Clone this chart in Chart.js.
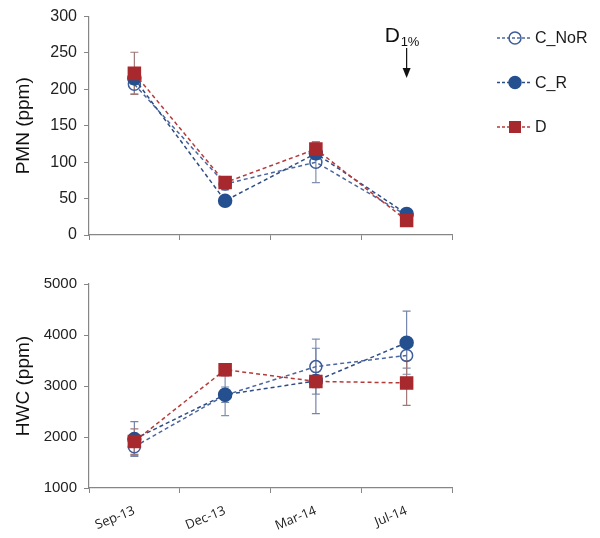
<!DOCTYPE html>
<html>
<head>
<meta charset="utf-8">
<script src="https://cdn.jsdelivr.net/npm/chart.js@4.4.1/dist/chart.umd.min.js"></script>
<style>
  body { margin: 0; background: #fff; }
  #wrap { position: relative; width: 600px; height: 538px; }
  canvas { position: absolute; left: 0; }
</style>
</head>
<body>
<div id="wrap">
  <canvas id="pmn" width="600" height="260" style="top:0"></canvas>
  <canvas id="hwc" width="600" height="278" style="top:260px"></canvas>
</div>
<script>
// sampling dates
const labels = ['Sep-13', 'Dec-13', 'Mar-14', 'Jul-14'];

// PMN (ppm)
const pmnNoR = [207, 70, 100, 27];
const pmnR = [215, 47, 112, 29];
const pmnD = [222, 72, 118, 20];
const pmnNoRErr = [13, 8, 28, 3];
const pmnRErr = [8, 3, 8, 3];
const pmnDErr = [29, 8, 10, 3];

// HWC (ppm)
const hwcNoR = [1810, 2820, 3380, 3600];
const hwcR = [1960, 2830, 3100, 3850];
const hwcD = [1910, 3320, 3090, 3060];
const hwcNoRErr = [170, 400, 540, 250];
const hwcRErr = [340, 150, 640, 620];
const hwcDErr = [250, 120, 120, 440];

const pmnTicks = [0, 300, 50];
const hwcTicks = [1000, 5000, 1000];

const blueOpen = '#3d5d99';
const blueFill = '#25508f';
const red = '#a8292d';

function series(name, values, errs, kind) {
    const s = {
        label: name,
        data: values,
        errors: errs,
        borderWidth: 1.5,
        borderDash: [4, 3],
        fill: false,
        tension: 0,
        pointBorderWidth: 1.5
    };
    if (kind === 'open') {
        s.borderColor = '#4b67a0';
        s.pointBorderColor = blueOpen;
        s.pointBackgroundColor = 'rgba(0,0,0,0)';
        s.pointStyle = 'circle';
        s.pointRadius = 6;
        s.errColor = '#8190b0';
        s.order = 2;
    } else if (kind === 'filled') {
        s.borderColor = '#2e4d85';
        s.pointBorderColor = blueFill;
        s.pointBackgroundColor = blueFill;
        s.pointStyle = 'circle';
        s.pointRadius = 6.5;
        s.errColor = '#7486ac';
        s.order = 1;
    } else {
        s.borderColor = '#b53b3b';
        s.pointBorderColor = red;
        s.pointBackgroundColor = red;
        s.pointStyle = 'rect';
        s.pointRadius = 8.5;
        s.errColor = '#a07878';
        s.order = 0;
    }
    return s;
}

// error bars drawn behind the markers
const errorBars = {
    id: 'errorBars',
    beforeDatasetsDraw(chart) {
        const ctx = chart.ctx;
        const y = chart.scales.y;
        chart.data.datasets.forEach((ds, i) => {
            const meta = chart.getDatasetMeta(i);
            meta.data.forEach((pt, j) => {
                const e = ds.errors[j];
                const top = y.getPixelForValue(ds.data[j] + e);
                const bot = y.getPixelForValue(ds.data[j] - e);
                ctx.save();
                ctx.strokeStyle = ds.errColor;
                ctx.lineWidth = 1.2;
                ctx.beginPath();
                ctx.moveTo(pt.x, top); ctx.lineTo(pt.x, bot);
                ctx.moveTo(pt.x - 4, top); ctx.lineTo(pt.x + 4, top);
                ctx.moveTo(pt.x - 4, bot); ctx.lineTo(pt.x + 4, bot);
                ctx.stroke();
                ctx.restore();
            });
        });
    }
};

// legend on the right side of the top panel
const sideLegend = {
    id: 'sideLegend',
    afterDraw(chart) {
        const ctx = chart.ctx;
        chart.data.datasets.forEach((ds, i) => {
            const yy = 38 + i * 44.5;
            const x0 = 497, xm = 515, x1 = 532;
            ctx.save();
            ctx.strokeStyle = ds.borderColor;
            ctx.lineWidth = 1.5;
            ctx.setLineDash([3, 2]);
            ctx.beginPath();
            ctx.moveTo(x0, yy); ctx.lineTo(x1, yy);
            ctx.stroke();
            ctx.setLineDash([]);
            ctx.lineWidth = 1.5;
            ctx.strokeStyle = ds.pointBorderColor;
            ctx.fillStyle = ds.pointBackgroundColor;
            if (ds.pointStyle === 'rect') {
                ctx.fillRect(xm - 6, yy - 6, 12, 12);
            } else {
                ctx.beginPath();
                ctx.arc(xm, yy, 6, 0, Math.PI * 2);
                ctx.fill();
                ctx.stroke();
            }
            ctx.fillStyle = '#1a1a1a';
            ctx.font = '16px "Liberation Sans", Arial, sans-serif';
            ctx.textBaseline = 'middle';
            ctx.fillText(ds.label, 535, yy + 1);
            ctx.restore();
        });
    }
};

// D1% marker above the last sampling date
const dosage = {
    id: 'dosage',
    afterDraw(chart) {
        const ctx = chart.ctx;
        const x = chart.scales.x.getPixelForValue(3);
        ctx.save();
        ctx.fillStyle = '#111';
        ctx.font = '21px "Liberation Sans", Arial, sans-serif';
        ctx.textBaseline = 'alphabetic';
        ctx.fillText('D', x - 22, 42);
        ctx.font = '13px "Liberation Sans", Arial, sans-serif';
        ctx.fillText('1%', x - 6, 46);
        ctx.strokeStyle = '#111';
        ctx.lineWidth = 1.2;
        ctx.beginPath();
        ctx.moveTo(x, 48); ctx.lineTo(x, 72);
        ctx.stroke();
        ctx.beginPath();
        ctx.moveTo(x - 4, 68); ctx.lineTo(x + 4, 68); ctx.lineTo(x, 78);
        ctx.closePath();
        ctx.fill();
        ctx.restore();
    }
};

function makeOptions(title, tk, showX, xHeight, tickSize) {
    return {
        responsive: false,
        animation: false,
        layout: { padding: { top: showX ? 24 : 16, right: 148, left: 0, bottom: 0 } },
        plugins: { legend: { display: false }, tooltip: { enabled: false } },
        scales: {
            x: {
                offset: true,
                grid: { offset: true, drawOnChartArea: false, tickLength: 5, color: '#868686' },
                border: { color: '#868686', width: 1.2 },
                ticks: {
                    display: showX,
                    autoSkip: false,
                    minRotation: 22,
                    maxRotation: 22,
                    padding: 10,
                    color: '#222',
                    font: { family: '"Open Sans", "Liberation Sans", sans-serif', size: 13 }
                },
                afterFit(s) { s.height = xHeight; }
            },
            y: {
                min: tk[0],
                max: tk[1],
                ticks: {
                    stepSize: tk[2],
                    padding: 7,
                    color: '#222',
                    callback: v => String(v),
                    font: { family: '"Liberation Sans", Arial, sans-serif', size: tickSize }
                },
                grid: { drawOnChartArea: false, tickLength: 5, color: '#868686' },
                border: { color: '#868686', width: 1.2 },
                title: {
                    display: true,
                    text: title,
                    color: '#111',
                    padding: { top: 12, bottom: 0 },
                    font: { family: '"Liberation Sans", Arial, sans-serif', size: 19 }
                },
                afterFit(s) { s.width = 89; }
            }
        }
    };
}

new Chart(document.getElementById('pmn').getContext('2d'), {
    type: 'line',
    data: {
        labels: labels,
        datasets: [
            series('C_NoR', pmnNoR, pmnNoRErr, 'open'),
            series('C_R', pmnR, pmnRErr, 'filled'),
            series('D', pmnD, pmnDErr, 'square')
        ]
    },
    options: makeOptions('PMN (ppm)', pmnTicks, false, 25, 16),
    plugins: [errorBars, sideLegend, dosage]
});

new Chart(document.getElementById('hwc').getContext('2d'), {
    type: 'line',
    data: {
        labels: labels,
        datasets: [
            series('C_NoR', hwcNoR, hwcNoRErr, 'open'),
            series('C_R', hwcR, hwcRErr, 'filled'),
            series('D', hwcD, hwcDErr, 'square')
        ]
    },
    options: makeOptions('HWC (ppm)', hwcTicks, true, 50, 15),
    plugins: [errorBars]
});
</script>
</body>
</html>
